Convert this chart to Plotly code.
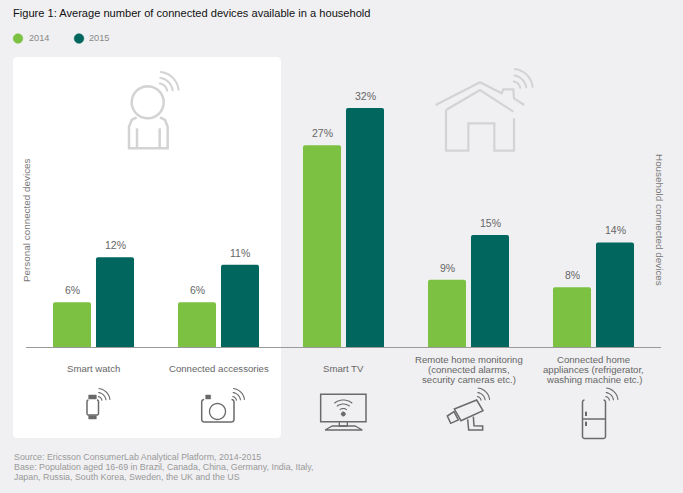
import numpy as np
import plotly.graph_objects as go

W, H = 683, 493
ML, MR, MT, MB = 26, 22, 57, 146

categories = ["Smart watch", "Connected accessories", "Smart TV",
              "Remote home monitoring (connected alarms, security cameras etc.)",
              "Connected home appliances (refrigerator, washing machine etc.)"]
category_lines = [["Smart watch"], ["Connected accessories"], ["Smart TV"],
                  ["Remote home monitoring", "(connected alarms,", "security cameras etc.)"],
                  ["Connected home", "appliances (refrigerator,", "washing machine etc.)"]]
values_2014 = [6, 6, 27, 9, 8]
values_2015 = [12, 11, 32, 15, 14]
source_lines = ["Source: Ericsson ConsumerLab Analytical Platform, 2014-2015",
                "Base: Population aged 16-69 in Brazil, Canada, China, Germany, India, Italy,",
                "Japan, Russia, South Korea, Sweden, the UK and the US"]

GREEN, TEAL = "#7dc142", "#00665e"
BG = "#f0f0f2"
FONT = "Liberation Sans"
LIGHT, DARK = "#d3d3d3", "#6a6a6a"


def fx(x):
    return (x - ML) / (W - ML - MR)


def fy(y):
    return 1 - (y - MT) / (H - MT - MB)


def path(points, close=False):
    s = "M" + " L".join(f"{fx(x):.5f},{fy(y):.5f}" for x, y in points)
    return s + (" Z" if close else "")


def arc(cx, cy, r, a0, a1, n=24):
    t = np.radians(np.linspace(a0, a1, n))
    return list(zip(cx + r * np.cos(t), cy - r * np.sin(t)))


def rrect(x0, y0, x1, y1, r):
    return (arc(x1 - r, y0 + r, r, 90, 0, 6) + arc(x1 - r, y1 - r, r, 0, -90, 6)
            + arc(x0 + r, y1 - r, r, -90, -180, 6) + arc(x0 + r, y0 + r, r, 180, 90, 6))


shapes = []


def add(points, color, width, close=False, fill=None, layer="above"):
    shapes.append(dict(type="path", xref="paper", yref="paper", path=path(points, close),
                       line=dict(color=color, width=width),
                       fillcolor=fill if fill else "rgba(0,0,0,0)", layer=layer))


def waves(cx, cy, radii, color, width):
    for r in radii:
        add(arc(cx, cy, r, 5, 85, 14), color, width)


def z(pts, ox, oy):
    return [(ox + x / 3, oy + y / 3) for x, y in pts]


# white panel behind the personal devices
add(rrect(13, 57, 281, 438, 4), "#ffffff", 0, True, "#ffffff", "below")

# person icon
add(arc(147.7, 102.3, 16, 0, 360, 48), LIGHT, 2.5)
add(z([(410, 352), (395, 360), (387, 380), (387, 445), (503, 445), (503, 380), (495, 360), (480, 352)], 0, 0), LIGHT, 2.5)
add(z([(411, 385), (411, 445)], 0, 0), LIGHT, 2.5)
add(z([(479, 385), (479, 445)], 0, 0), LIGHT, 2.5)
waves(158.3, 92.3, [9, 14.5, 20.5], LIGHT, 2)

# house icon
add(z([(287, 165), (420, 97), (485, 130), (490, 118), (520, 118), (522, 145), (553, 165)], 340, 50), LIGHT, 2.2)
add(z([(318, 180), (420, 120), (520, 185)], 340, 50), LIGHT, 2.2)
add(z([(318, 180), (318, 302), (385, 302), (385, 220), (463, 220), (463, 302), (522, 302), (522, 205)], 340, 50), LIGHT, 2.2)
waves(340 + 517 / 3, 50 + 118 / 3, [8, 14, 20.5], LIGHT, 2)

# watch icon
add(rrect(87, 400, 98.5, 415, 1.5), DARK, 1.5)
add(z([(266, 165), (289, 165), (289, 177), (266, 177)], 0, 340), DARK, 0.5, True, DARK)
add(z([(266, 227), (289, 227), (289, 237), (266, 237)], 0, 340), DARK, 0.5, True, DARK)
waves(97.5, 401, [4.5, 8.5, 12.5], DARK, 1.1)

# camera icon
add(rrect(201.7, 399.5, 234, 422, 2.5), DARK, 1.5)
add(z([(617, 177), (617, 165), (632, 165), (632, 177)], 0, 340), DARK, 0.5, True, DARK)
add(arc(217.5, 411.5, 8, 0, 360, 40), DARK, 1.3)
waves(232, 401, [4.5, 8.5, 12.5], DARK, 1.1)

# TV icon
add(z([(62, 163), (198, 163), (198, 245), (62, 245)], 300, 340), DARK, 1.5, True)
add(z([(118, 245), (118, 258), (142, 258), (142, 245)], 300, 340), DARK, 1.3)
add(z([(75, 270), (97, 258), (165, 258), (187, 270), (75, 270)], 300, 340), DARK, 1.3)
add(arc(343.3, 414, 2, 0, 360, 16), DARK, 1, True, DARK)
for r in (5.5, 10, 14):
    add(arc(343.3, 414, r, 50, 130, 12), DARK, 1.1)

# security camera icon
add(z([(463, 207), (530, 180), (549, 212), (483, 242)], 300, 340), DARK, 1.5, True)
add(z([(442, 228), (462, 215), (475, 240), (452, 250)], 300, 340), DARK, 1.5, True)
add(z([(503, 238), (506, 270), (548, 270), (548, 258), (522, 257), (520, 230)], 300, 340), DARK, 1.5)
waves(300 + 530 / 3, 340 + 183 / 3, [4.5, 8.5, 13], DARK, 1.1)

# fridge icon
add(rrect(582.5, 400, 605.5, 438.5, 2), DARK, 1.5)
add(z([(848, 237), (917, 237)], 300, 340), DARK, 1.5)
add(z([(858, 215), (858, 228)], 300, 340), DARK, 2)
add(z([(858, 245), (858, 258)], 300, 340), DARK, 2)
waves(300 + 915 / 3, 340 + 183 / 3, [4.5, 8.5, 13], DARK, 1.1)

# legend dots
add(arc(18, 38.5, 4.8, 0, 360, 30), GREEN, 0.5, True, GREEN)
add(arc(79, 38.5, 4.8, 0, 360, 30), TEAL, 0.5, True, TEAL)

annotations = []


def text(s, x, y, size, color, anchor="left", angle=0, xref="paper"):
    annotations.append(dict(text=s, x=fx(x) if xref == "paper" else x, y=fy(y), xref=xref, yref="paper",
                            xanchor=anchor, yanchor="middle", showarrow=False, textangle=angle, borderpad=0,
                            font=dict(family=FONT, size=size, color=color)))


text("2014", 27.5, 38.5, 9.2, "#888888")
text("2015", 88, 38.5, 9.2, "#888888")
text("Personal connected devices", 26, 220, 9.9, "#777777", "center", -90)
text("Household connected devices", 660, 220, 9.9, "#777777", "center", 90)
for i, lines in enumerate(category_lines):
    start = 368.5 if len(lines) == 1 else 359.5
    for j, line in enumerate(lines):
        text(line, i, start + j * 10, 9.6, "#666666", "center", xref="x")
for j, line in enumerate(source_lines):
    text(line, 13, 457 + j * 10, 8.85, "#999999")

# value labels sit on the data values, a few pixels clear of the bar tops
for vals, shift in ((values_2014, -21.5), (values_2015, 21.5)):
    for i, v in enumerate(vals):
        annotations.append(dict(text=f"{v}%", x=i, y=v, xref="x", yref="y", xshift=shift, yshift=5,
                                xanchor="center", yanchor="bottom", showarrow=False, borderpad=0,
                                font=dict(family=FONT, size=10.5, color="#666666")))

fig = go.Figure()
for name, vals, col in (("2014", values_2014, GREEN), ("2015", values_2015, TEAL)):
    fig.add_bar(name=name, x=categories, y=vals, marker=dict(color=col, line=dict(width=0)))

fig.update_layout(
    width=W, height=H, margin=dict(l=ML, r=MR, t=MT, b=MB, pad=0), autosize=False,
    paper_bgcolor=BG, plot_bgcolor="rgba(0,0,0,0)", showlegend=False,
    barmode="group", bargap=0.312, bargroupgap=0.116, barcornerradius=2,
    font=dict(family=FONT),
    title=dict(text="Figure 1: Average number of connected devices available in a household",
               x=13 / W, xref="container", xanchor="left", y=1 - 13.5 / H, yref="container", yanchor="middle",
               font=dict(family=FONT, size=11.1, color="#111111")),
    xaxis=dict(type="category", range=[-0.54, 4.54], showticklabels=False, ticks="", showline=True,
               linecolor="#9a9a9a", linewidth=1, showgrid=False, zeroline=False),
    yaxis=dict(range=[0, 290 / 7.47], visible=False, showgrid=False, zeroline=False),
    shapes=shapes, annotations=annotations,
)
fig.write_html("out.html", config=dict(displayModeBar=False),
               post_script="document.body.style.margin='0';")
